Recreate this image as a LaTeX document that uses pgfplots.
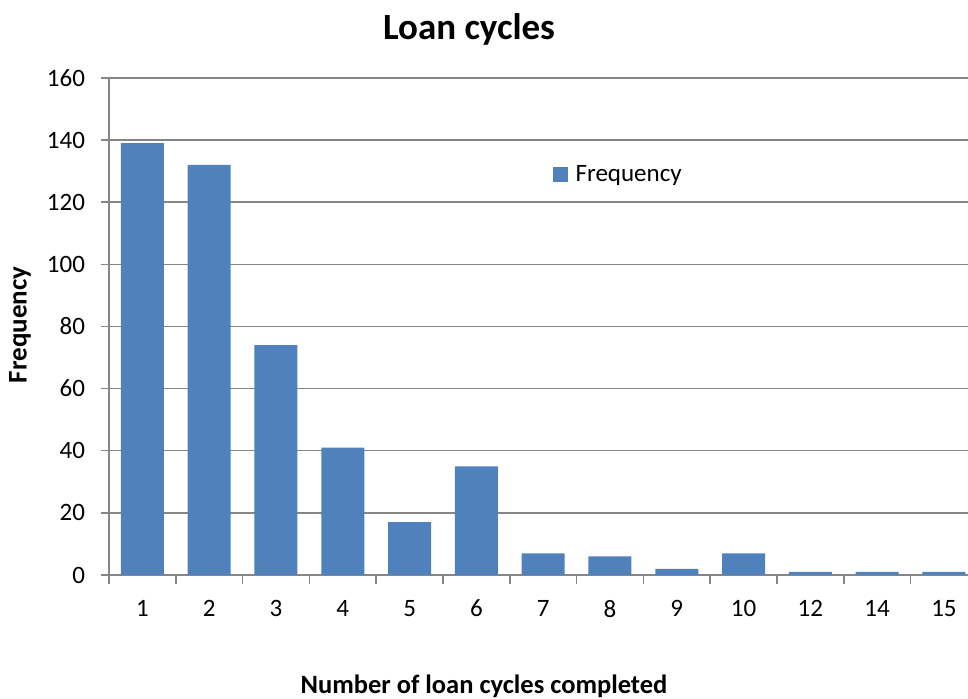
\documentclass[border=0pt]{standalone}
\usepackage{fontspec}
\setmainfont{Carlito}
\usepackage{pgfplots}
\pgfplotsset{compat=1.18}
\definecolor{barblue}{HTML}{4F81BD}
\definecolor{gridgray}{HTML}{868686}
\begin{document}
\begin{tikzpicture}
\useasboundingbox (-54.5pt,-62pt) rectangle (429.5pt,287.5pt);
\begin{axis}[
  scale only axis, width=429.5pt, height=248.5pt,
  at={(0pt,0pt)}, anchor=south west,
  xmin=-0.5, xmax=12.36, ymin=0, ymax=160,
  axis x line=bottom, axis y line=left,
  axis line style={-, draw=gridgray, line width=0.75pt},
  ytick={0,20,...,160},
  ymajorgrids, grid style={draw=gridgray, line width=0.75pt},
  xtick={0,...,12},
  xticklabels={1,2,3,4,5,6,7,8,9,10,12,14,15},
  minor xtick={-0.5,0.5,...,12.5},
  tick align=outside, major tick length=4pt, minor tick length=4.5pt,
  major x tick style={draw=none},
  minor x tick style={draw=gridgray, line width=0.75pt},
  y tick style={draw=gridgray, line width=0.75pt},
  ticklabel style={font=\fontsize{12.5}{15}\selectfont},
  /pgf/number format/assume math mode=true,
  xticklabel style={yshift=-5pt},
  yticklabel style={xshift=-4.5pt},
  ybar, bar width=21.5pt,
  legend style={draw=none, fill=none, at={(0.516,0.805)}, anchor=west,
    inner sep=0pt, font=\fontsize{12.5}{15}\selectfont,
    nodes={inner sep=0pt}, /tikz/every odd column/.style={column sep=4pt}},
]
\addplot[fill=barblue, draw=none,
  legend image code/.code={\fill[barblue] (0pt,-3.75pt) rectangle (7.5pt,3.75pt);}]
  coordinates {(0,139) (1,132) (2,74) (3,41) (4,17) (5,35) (6,7) (7,6) (8,2) (9,7) (10,1) (11,1) (12,1)};
\addlegendentry{Frequency}
\end{axis}
\node[anchor=base, font=\fontsize{18.5}{22}\selectfont\bfseries] at (180pt,267.5pt) {Loan cycles};
\node[anchor=base, font=\fontsize{13.25}{16}\selectfont\bfseries] at (187.5pt,-59.5pt) {Number of loan cycles completed};
\node[rotate=90, font=\fontsize{13.5}{16}\selectfont\bfseries] at (-44.5pt,125pt) {Frequency};
\end{tikzpicture}
\end{document}
